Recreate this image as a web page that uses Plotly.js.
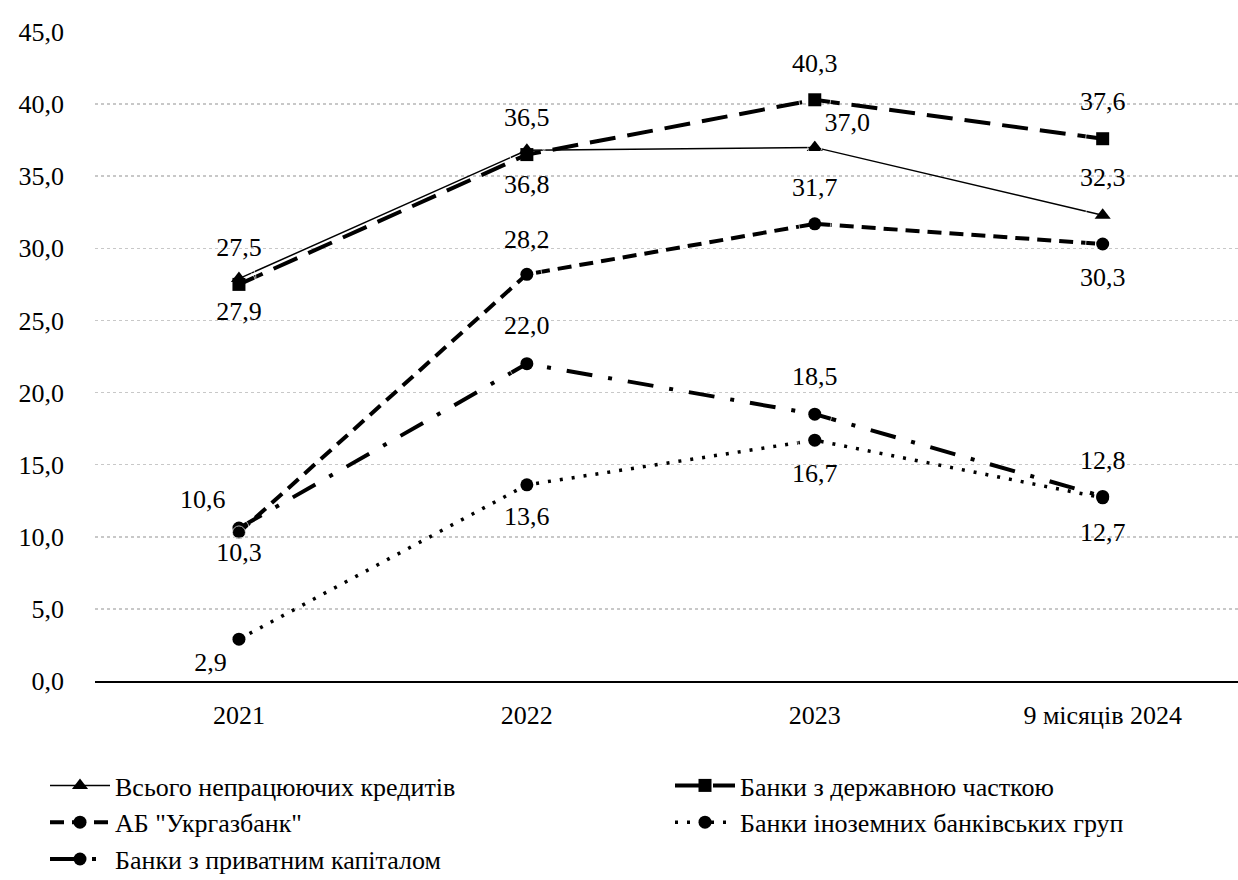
<!DOCTYPE html>
<html>
<head>
<meta charset="utf-8">
<script src="https://cdn.plot.ly/plotly-3.0.1.min.js"></script>
<style>
html,body{margin:0;padding:0;background:#fff;}
#chart{width:1238px;height:880px;}
</style>
</head>
<body>
<div id="chart"></div>
<script>
const categories = ["2021", "2022", "2023", "9 місяців 2024"];
const seriesNames = ["Всього непрацюючих кредитів", "Банки з державною часткою", "АБ \"Укргазбанк\"", "Банки іноземних банківських груп", "Банки з приватним капіталом"];
const totalNPL = [27.9, 36.8, 37.0, 32.3];
const stateBanks = [27.5, 36.5, 40.3, 37.6];
const ukrgasbank = [10.3, 28.2, 31.7, 30.3];
const foreignBanks = [2.9, 13.6, 16.7, 12.7];
const privateBanks = [10.6, 22.0, 18.5, 12.8];
const yTicks = [0, 5, 10, 15, 20, 25, 30, 35, 40, 45];

const FONT = "Liberation Serif, Times New Roman, serif";
const FS = 26;
const fmt = v => v.toFixed(1).replace('.', ',');
const xIdx = categories.map((c, i) => i);

function line(name, vals, ln, marker, leg) {
  return {
    type: 'scatter', mode: 'lines+markers', name: name,
    x: xIdx, y: vals, line: ln, marker: marker, cliponaxis: false,
    hoverinfo: 'skip', legend: leg
  };
}
function labels(vals, pos, pad) {
  return {
    type: 'scatter', mode: 'markers+text', showlegend: false,
    x: xIdx, y: vals, text: vals.map(fmt), textposition: pos,
    textfont: {family: FONT, size: FS, color: '#000'},
    marker: {size: pad, color: 'rgba(0,0,0,0)'}, cliponaxis: false, hoverinfo: 'skip'
  };
}

const data = [
  line(seriesNames[0], totalNPL, {color: '#000', width: 1.5}, {symbol: 'triangle-up', size: 14, color: '#000'}, 'legend'),
  line(seriesNames[1], stateBanks, {color: '#000', width: 4, dash: '26px,12px'}, {symbol: 'square', size: 13, color: '#000'}, 'legend2'),
  line(seriesNames[2], ukrgasbank, {color: '#000', width: 4, dash: '14px,8px'}, {symbol: 'circle', size: 13, color: '#000'}, 'legend'),
  line(seriesNames[3], foreignBanks, {color: '#000', width: 3.5, dash: '3px,9px'}, {symbol: 'circle', size: 13, color: '#000'}, 'legend2'),
  line(seriesNames[4], privateBanks, {color: '#000', width: 4, dash: '26px,16px,4px,16px'}, {symbol: 'circle', size: 13, color: '#000'}, 'legend'),
  labels(totalNPL, ['bottom center', 'bottom center', 'top right', 'top center'], [34, 36, 14, 34]),
  labels(stateBanks, ['top center', 'top center', 'top center', 'top center'], [34, 34, 32, 34]),
  labels(ukrgasbank, ['bottom center', 'top center', 'top center', 'bottom center'], [13, 30, 32, 34]),
  labels(foreignBanks, ['bottom left', 'bottom center', 'bottom center', 'bottom center'], [18, 32, 34, 36]),
  labels(privateBanks, ['top left', 'top center', 'top center', 'top center'], [20, 36, 34, 32])
];

const legFont = {family: FONT, size: FS, color: '#000'};
const layout = {
  width: 1238, height: 880,
  margin: {l: 95, r: 0, t: 32, b: 199},
  paper_bgcolor: '#fff', plot_bgcolor: '#fff',
  separators: ', ',
  font: {family: FONT, size: FS, color: '#000'},
  showlegend: true,
  xaxis: {
    range: [-0.5, 3.47], tickmode: 'array', tickvals: xIdx, ticktext: categories, tickangle: 0,
    showgrid: false, zeroline: false, showline: true, linecolor: '#000', linewidth: 2,
    ticks: '', ticklabelstandoff: 10, tickfont: {family: FONT, size: FS, color: '#000'}, fixedrange: true
  },
  yaxis: {
    range: [0, 45], tickmode: 'array', tickvals: yTicks, tickformat: '.1f',
    showgrid: true, gridcolor: '#c8c8c8', gridwidth: 1.5, griddash: 'dot',
    zeroline: false, showline: false, ticks: '', ticklabelstandoff: 30,
    tickfont: {family: FONT, size: FS, color: '#000'}, fixedrange: true
  },
  legend: {
    orientation: 'v', xref: 'paper', yref: 'container', x: -50 / 1143, y: 1 - 762 / 880,
    xanchor: 'left', yanchor: 'top', font: legFont, tracegroupgap: 0, itemwidth: 60,
    bgcolor: 'rgba(0,0,0,0)'
  },
  legend2: {
    orientation: 'v', xref: 'paper', yref: 'container', x: 575 / 1143, y: 1 - 762 / 880,
    xanchor: 'left', yanchor: 'top', font: legFont, tracegroupgap: 0, itemwidth: 60,
    bgcolor: 'rgba(0,0,0,0)'
  }
};

Plotly.newPlot('chart', data, layout, {displayModeBar: false, staticPlot: true});
</script>
</body>
</html>
